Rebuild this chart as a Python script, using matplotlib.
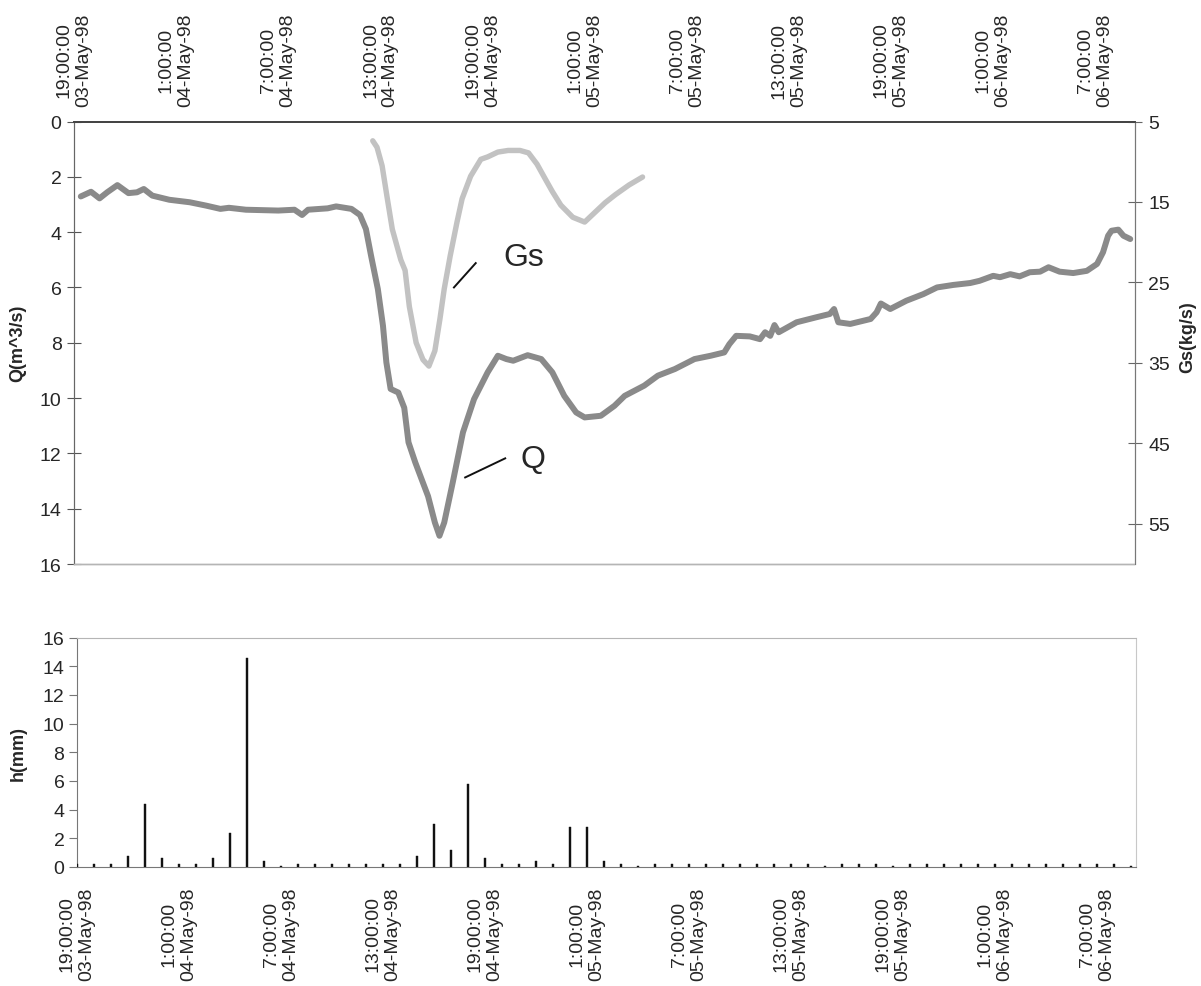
import matplotlib
matplotlib.use("Agg")
import matplotlib.pyplot as plt
from matplotlib.ticker import MultipleLocator, FixedLocator
import numpy as np

plt.rcParams['font.family'] = ['Liberation Sans', 'DejaVu Sans']

# ---------------- data (hours after 19:00 03-May-98) ----------------
q_hours = [0.4, 1.0, 1.5, 1.95, 2.55, 3.2, 3.7, 4.1, 4.6, 5.6, 6.8, 7.75, 8.6, 9.1, 10.1,
           12.0, 12.95, 13.4, 13.75, 14.9, 15.4, 16.3, 16.8, 17.15, 17.45, 17.85, 18.15,
           18.35, 18.6, 19.05, 19.4, 19.65, 20.05, 20.4, 20.8, 21.2, 21.47, 21.75, 22.25,
           22.85, 23.5, 24.3, 24.9, 25.4, 25.8, 26.65, 27.45, 28.1, 28.8, 29.5, 30.0, 30.95,
           31.75, 32.35, 33.5, 34.3, 35.3, 36.45, 37.4, 38.2, 38.5, 38.9, 39.7, 40.3, 40.6,
           40.9, 41.15, 41.4, 42.45, 43.6, 44.4, 44.65, 44.9, 45.6, 46.8, 47.15, 47.4, 47.95,
           48.9, 49.9, 50.7, 51.65, 52.65, 53.2, 54.0, 54.4, 55.0, 55.55, 56.15, 56.75, 57.25,
           57.9, 58.7, 59.5, 60.1, 60.45, 60.75, 60.95, 61.35, 61.65, 62.05]
q_values = [2.71, 2.54, 2.78, 2.56, 2.30, 2.59, 2.56, 2.44, 2.68, 2.83, 2.92, 3.04, 3.16, 3.12,
            3.19, 3.22, 3.19, 3.38, 3.19, 3.14, 3.07, 3.16, 3.38, 3.89, 4.85, 6.06, 7.38, 8.71,
            9.67, 9.80, 10.35, 11.60, 12.33, 12.90, 13.55, 14.50, 14.98, 14.50, 13.05, 11.24,
            10.04, 9.07, 8.47, 8.59, 8.65, 8.45, 8.59, 9.07, 9.92, 10.52, 10.70, 10.64, 10.28,
            9.92, 9.55, 9.19, 8.95, 8.59, 8.47, 8.35, 8.05, 7.75, 7.77, 7.87, 7.62, 7.75, 7.36,
            7.62, 7.26, 7.08, 6.96, 6.78, 7.26, 7.32, 7.14, 6.90, 6.58, 6.78, 6.48, 6.24, 6.00,
            5.91, 5.84, 5.76, 5.58, 5.63, 5.52, 5.60, 5.45, 5.43, 5.27, 5.43, 5.48, 5.40, 5.15,
            4.73, 4.13, 3.95, 3.91, 4.13, 4.25]

gs_hours = [17.55, 17.8, 18.1, 18.4, 18.7, 19.2, 19.45, 19.7, 20.1, 20.5, 20.85, 21.2, 21.5,
            21.75, 22.1, 22.5, 22.8, 23.3, 23.9, 24.3, 24.9, 25.5, 26.2, 26.7, 27.2, 27.7,
            28.1, 28.6, 29.3, 30.0, 30.6, 31.2, 31.8, 32.6, 33.4]
gs_values = [7.4, 8.2, 10.5, 14.5, 18.4, 22.2, 23.5, 28.0, 32.5, 34.6, 35.4, 33.5, 29.5,
             25.8, 21.7, 17.5, 14.6, 11.8, 9.7, 9.4, 8.8, 8.6, 8.6, 8.9, 10.3, 12.2, 13.7,
             15.4, 16.9, 17.5, 16.3, 15.1, 14.1, 12.9, 11.9]

rain_hours = list(range(63))
rain_mm = [0.2, 0.2, 0.2, 0.8, 4.4, 0.6, 0.2, 0.2, 0.6, 2.4, 14.6, 0.4, 0.1, 0.2, 0.2, 0.2,
           0.2, 0.2, 0.2, 0.2, 0.8, 3.0, 1.2, 5.8, 0.6, 0.2, 0.2, 0.4, 0.2, 2.8, 2.8, 0.4,
           0.2, 0.1, 0.2, 0.2, 0.2, 0.2, 0.2, 0.2, 0.2, 0.2, 0.2, 0.2, 0.1, 0.2, 0.2, 0.2,
           0.1, 0.2, 0.2, 0.2, 0.2, 0.2, 0.2, 0.2, 0.2, 0.2, 0.2, 0.2, 0.2, 0.2, 0.1]

tick_hours = [0, 6, 12, 18, 24, 30, 36, 42, 48, 54, 60]
tick_labels = ["19:00:00\n03-May-98", "1:00:00\n04-May-98", "7:00:00\n04-May-98",
               "13:00:00\n04-May-98", "19:00:00\n04-May-98", "1:00:00\n05-May-98",
               "7:00:00\n05-May-98", "13:00:00\n05-May-98", "19:00:00\n05-May-98",
               "1:00:00\n06-May-98", "7:00:00\n06-May-98"]

q_ticks = [0, 2, 4, 6, 8, 10, 12, 14, 16]
gs_ticks = [5, 15, 25, 35, 45, 55]
h_ticks = [0, 2, 4, 6, 8, 10, 12, 14, 16]

# ---------------- figure ----------------
W, H = 1201, 987
fig = plt.figure(figsize=(W / 100, H / 100), dpi=100)
fig.patch.set_facecolor('white')

XMAX = 62.3
TXT = '#262626'
FS = 14

# ---- top chart ----
ax1 = fig.add_axes([74 / W, 1 - 565 / H, (1134.5 - 74) / W, (565 - 122.5) / H])
ax2 = ax1.twinx()
ax1.set_xlim(0, XMAX)
ax1.set_ylim(16, 0)
ax2.set_ylim(60, 5)

ax1.plot(q_hours, q_values, color='#8a8a8a', lw=4.3, solid_joinstyle='round',
         solid_capstyle='round', zorder=3)
ax2.plot(gs_hours, gs_values, color='#c2c2c2', lw=3.9, solid_joinstyle='round',
         solid_capstyle='round', zorder=3)

# annotations
ax1.plot([22.32, 23.6], [6.0, 5.12], color='#111111', lw=1.4)
ax1.text(26.45, 4.9, "Gs", fontsize=23, color=TXT, ha='center', va='center')
ax1.plot([22.98, 25.33], [12.87, 12.18], color='#111111', lw=1.4)
ax1.text(26.97, 12.2, "Q", fontsize=23, color=TXT, ha='center', va='center')

ax1.xaxis.tick_top()
ax1.xaxis.set_major_locator(FixedLocator(tick_hours))
ax1.set_xticklabels(tick_labels, rotation=90, ha='center', va='bottom',
                    multialignment='center', fontsize=FS, color=TXT)
ax1.xaxis.set_minor_locator(FixedLocator([12, 24, 36, 48, 60]))
ax1.tick_params(axis='x', which='major', length=0, pad=11, top=True, bottom=False)
ax1.tick_params(axis='x', which='minor', length=8, direction='inout', color='#555555',
                top=True, bottom=False)

ax1.set_yticks(q_ticks)
ax1.tick_params(axis='y', which='major', length=10, direction='inout', color='#555555',
                labelsize=FS, labelcolor=TXT, pad=4)
ax2.set_yticks(gs_ticks)
ax2.tick_params(axis='y', which='major', length=10, direction='inout', color='#666666',
                labelsize=FS, labelcolor=TXT, pad=5)

for a in (ax1, ax2):
    a.spines['top'].set_color('#444444')
    a.spines['top'].set_linewidth(1.3)
    a.spines['left'].set_color('#666666')
    a.spines['right'].set_color('#777777')
    a.spines['bottom'].set_color('#b5b5b5')
    a.spines['bottom'].set_linestyle((0, (1, 1)))
    a.spines['bottom'].set_linewidth(1.0)
ax2.set_zorder(ax1.get_zorder() + 1)
ax2.patch.set_visible(False)

ax1.set_ylabel("Q(m^3/s)", fontsize=13, fontweight='bold', color=TXT)
ax1.yaxis.label.set_va('center')
ax1.yaxis.set_label_coords((18 - 74) / (1134.5 - 74), 0.5)
ax2.set_ylabel("Gs(kg/s)", fontsize=13, fontweight='bold', color=TXT, rotation=90)
ax2.yaxis.label.set_va('center')
ax2.yaxis.set_label_coords((1188 - 74) / (1134.5 - 74), 0.515)

# ---- bottom chart ----
ax3 = fig.add_axes([77 / W, 1 - 868 / H, (1136 - 77) / W, (868 - 638.5) / H])
ax3.set_xlim(0, XMAX)
ax3.set_ylim(0, 16)
ax3.bar(rain_hours, rain_mm, width=0.15, color='#111111', edgecolor='#111111',
        linewidth=0.3, zorder=3)

ax3.xaxis.set_major_locator(FixedLocator(tick_hours))
ax3.set_xticklabels(tick_labels, rotation=90, ha='center', va='top',
                    multialignment='center', fontsize=FS, color=TXT)
ax3.xaxis.set_minor_locator(FixedLocator([12, 24, 36, 48, 60]))
ax3.tick_params(axis='x', which='major', length=0, pad=14)
ax3.tick_params(axis='x', which='minor', length=12, direction='inout', color='#666666')
ax3.set_yticks(h_ticks)
ax3.tick_params(axis='y', which='major', length=6, direction='out', color='#777777',
                labelsize=FS, labelcolor=TXT, pad=3)

ax3.spines['left'].set_color('#777777')
ax3.spines['bottom'].set_color('#777777')
ax3.spines['top'].set_color('#b5b5b5')
ax3.spines['top'].set_linestyle((0, (1, 1)))
ax3.spines['right'].set_color('#c8c8c8')

ax3.set_ylabel("h(mm)", fontsize=13, fontweight='bold', color=TXT)
ax3.yaxis.label.set_va('center')
ax3.yaxis.set_label_coords((18 - 77) / (1136 - 77), 0.5)

fig.savefig("out.png", dpi=100, facecolor='white')
